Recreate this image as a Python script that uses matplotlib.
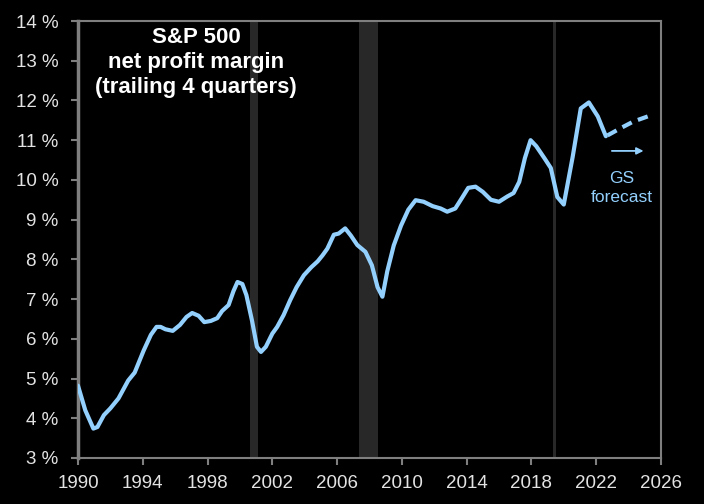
import matplotlib
matplotlib.use("Agg")
import matplotlib.pyplot as plt

plt.rcParams["font.family"] = ["Liberation Sans", "DejaVu Sans"]

# S&P 500 net profit margin, trailing 4 quarters (%)
years = [1990.0, 1990.45, 1990.95, 1991.2, 1991.6, 1992.0, 1992.5, 1993.1, 1993.5,
         1994.05, 1994.5, 1994.85, 1995.1, 1995.4, 1995.85, 1996.3, 1996.7, 1997.05,
         1997.45, 1997.8, 1998.2, 1998.6, 1998.9, 1999.3, 1999.6, 1999.85, 2000.15,
         2000.4, 2000.75, 2001.05, 2001.3, 2001.6, 2002.0, 2002.3, 2002.7, 2003.1,
         2003.5, 2003.95, 2004.4, 2004.8, 2005.1, 2005.4, 2005.8, 2006.1, 2006.5,
         2006.85, 2007.25, 2007.75, 2008.15, 2008.5, 2008.8, 2009.1, 2009.5, 2009.95,
         2010.4, 2010.85, 2011.35, 2011.9, 2012.4, 2012.8, 2013.3, 2013.75, 2014.1,
         2014.55, 2015.0, 2015.5, 2016.0, 2016.5, 2016.9, 2017.25, 2017.6, 2017.95,
         2018.3, 2018.8, 2019.2, 2019.6, 2020.0, 2020.55, 2021.05, 2021.55, 2022.1,
         2022.6]
margin = [4.82, 4.2, 3.74, 3.78, 4.08, 4.25, 4.5, 4.95, 5.15,
          5.7, 6.1, 6.3, 6.3, 6.24, 6.2, 6.35, 6.55, 6.65,
          6.58, 6.42, 6.45, 6.52, 6.7, 6.85, 7.2, 7.43, 7.38,
          7.1, 6.45, 5.8, 5.67, 5.8, 6.13, 6.3, 6.6, 6.97,
          7.3, 7.6, 7.8, 7.95, 8.1, 8.27, 8.62, 8.65, 8.78,
          8.6, 8.36, 8.19, 7.85, 7.3, 7.06, 7.7, 8.35, 8.85,
          9.25, 9.49, 9.45, 9.34, 9.28, 9.2, 9.28, 9.57, 9.8,
          9.83, 9.7, 9.5, 9.45, 9.58, 9.67, 9.95, 10.55, 11.0,
          10.85, 10.55, 10.3, 9.57, 9.38, 10.58, 11.8, 11.95, 11.6,
          11.1]

# GS forecast
fc_years = [2022.7, 2023.5, 2024.3, 2025.2]
fc_margin = [11.12, 11.3, 11.47, 11.6]

# recession bands (start, end)
recessions = [(2000.6, 2001.1), (2007.35, 2008.55), (2019.35, 2019.55)]

xticks = list(range(1990, 2027, 4))
yticks = list(range(3, 15))

line_col = "#93d0fd"
text_col = "#e3e3e3"
spine_col = "#7f7f7f"

fig = plt.figure(figsize=(7.04, 5.04), dpi=100, facecolor="black")
ax = fig.add_axes([0.1108, 0.0913, 0.828, 0.867], facecolor="black")

for start, end in recessions:
    ax.axvspan(start, end, color="#282828", lw=0, zorder=1)

ax.plot(years, margin, color=line_col, lw=3, solid_capstyle="round",
        solid_joinstyle="round", zorder=3)
ax.plot(fc_years, fc_margin, color=line_col, lw=3, ls=(0, (2.5, 1.6)),
        zorder=3)

ax.annotate("", xy=(2025.1, 10.73), xytext=(2022.8, 10.73),
            arrowprops=dict(arrowstyle="-|>", color=line_col, lw=1.3,
                            mutation_scale=10))
ax.text(2023.6, 9.8, "GS\nforecast", color=line_col, fontsize=12.5,
        ha="center", va="center", linespacing=1.3)

ax.text(1997.3, 12.95, "S&P 500\nnet profit margin\n(trailing 4 quarters)",
        color="white", fontsize=16, fontweight="bold", ha="center", va="center",
        linespacing=1.25)

ax.set_xlim(1990, 2026)
ax.set_ylim(3, 14)
ax.set_xticks(xticks)
ax.set_yticks(yticks)
ax.set_yticklabels([f"{v} %" for v in yticks])

for side in ["top", "right", "bottom"]:
    ax.spines[side].set_color(spine_col)
    ax.spines[side].set_linewidth(1.5)
ax.spines["left"].set_color(spine_col)
ax.spines["left"].set_linewidth(2.5)

ax.tick_params(axis="both", colors=spine_col, labelcolor=text_col,
               labelsize=13.5, width=1.5)
ax.tick_params(axis="y", length=5, pad=9)
ax.tick_params(axis="x", length=5, pad=7)

plt.savefig("out.png", dpi=100, facecolor="black")
plt.close()
